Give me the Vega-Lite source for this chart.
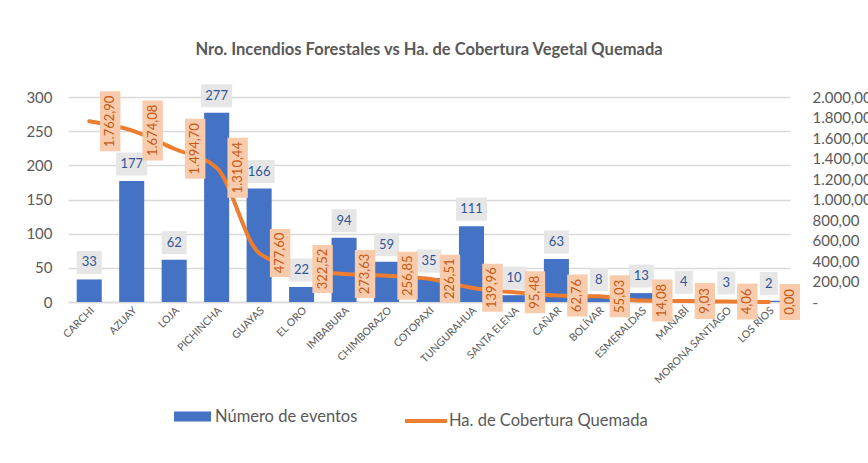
{
  "$schema": "https://vega.github.io/schema/vega-lite/v6.json",
  "width": 722,
  "height": 205,
  "autosize": {"type": "none"},
  "padding": {"left": 68, "top": 97, "right": 78, "bottom": 161},
  "background": "white",
  "title": {
    "text": "Nro. Incendios Forestales vs Ha. de Cobertura Vegetal Quemada",
    "font": "Lato",
    "fontSize": 16.5,
    "fontWeight": "bold",
    "color": "#595959",
    "anchor": "middle",
    "frame": "group",
    "offset": 26
  },
  "data": {
    "values": [
      {"p": "CARCHI", "n": 33, "ha": 1762.90},
      {"p": "AZUAY", "n": 177, "ha": 1674.08},
      {"p": "LOJA", "n": 62, "ha": 1494.70},
      {"p": "PICHINCHA", "n": 277, "ha": 1310.44},
      {"p": "GUAYAS", "n": 166, "ha": 477.60},
      {"p": "EL ORO", "n": 22, "ha": 322.52},
      {"p": "IMBABURA", "n": 94, "ha": 273.63},
      {"p": "CHIMBORAZO", "n": 59, "ha": 256.85},
      {"p": "COTOPAXI", "n": 35, "ha": 226.51},
      {"p": "TUNGURAHUA", "n": 111, "ha": 139.96},
      {"p": "SANTA ELENA", "n": 10, "ha": 95.48},
      {"p": "CAÑAR", "n": 63, "ha": 62.76},
      {"p": "BOLÍVAR", "n": 8, "ha": 55.03},
      {"p": "ESMERALDAS", "n": 13, "ha": 14.08},
      {"p": "MANABÍ", "n": 4, "ha": 9.03},
      {"p": "MORONA SANTIAGO", "n": 3, "ha": 4.06},
      {"p": "LOS RÍOS", "n": 2, "ha": 0.00}
    ]
  },
  "encoding": {
    "x": {
      "field": "p",
      "type": "nominal",
      "sort": null,
      "title": null,
      "scale": {"paddingInner": 0.41, "paddingOuter": 0.205},
      "axis": {
        "labelAngle": -45,
        "labelFontSize": 10.5,
        "labelColor": "#595959",
        "labelFont": "Lato",
        "labelLimit": 0,
        "ticks": false,
        "domainColor": "#d9d9d9",
        "domainWidth": 1.5,
        "labelPadding": 3
      }
    }
  },
  "layer": [
    {
      "mark": {"type": "bar", "stroke": null},
      "encoding": {
        "y": {
          "field": "n",
          "type": "quantitative",
          "title": null,
          "scale": {"domain": [0, 300], "nice": false},
          "axis": {
            "values": [0, 50, 100, 150, 200, 250, 300],
            "labelFontSize": 15,
            "labelColor": "#595959",
            "labelFont": "Lato",
            "labelPadding": 16,
            "ticks": false,
            "domain": false,
            "grid": true,
            "gridColor": "#d9d9d9",
            "gridWidth": 1.5
          }
        },
        "fill": {
          "datum": "Número de eventos",
          "scale": {"range": ["#4472c4"]},
          "legend": {
            "title": null,
            "orient": "none",
            "legendX": 106,
            "legendY": 301,
            "symbolType": "M-1,-0.27H1V0.27H-1Z",
            "symbolSize": 1369,
            "symbolStrokeWidth": 0,
            "labelFontSize": 16.5,
            "labelColor": "#595959",
            "labelFont": "Lato",
            "labelLimit": 0,
            "labelOffset": 4
          }
        }
      }
    },
    {
      "mark": {"type": "line", "strokeWidth": 4, "interpolate": "monotone", "strokeCap": "round"},
      "encoding": {
        "y": {
          "field": "ha",
          "type": "quantitative",
          "title": null,
          "scale": {"domain": [0, 2000], "nice": false},
          "axis": {
            "orient": "right",
            "values": [0, 200, 400, 600, 800, 1000, 1200, 1400, 1600, 1800, 2000],
            "labelExpr": "datum.value === 0 ? '-' : format(datum.value, ',.2f')",
            "labelFontSize": 15,
            "labelColor": "#595959",
            "labelFont": "Lato",
            "labelPadding": 22,
            "labelAlign": "left",
            "ticks": false,
            "domain": false,
            "grid": false
          }
        },
        "stroke": {
          "datum": "Ha. de Cobertura Quemada",
          "scale": {"range": ["#ed7d31"]},
          "legend": {
            "title": null,
            "orient": "none",
            "legendX": 335,
            "legendY": 301,
            "symbolType": "stroke",
            "symbolSize": 1764,
            "symbolStrokeWidth": 4,
            "labelFontSize": 16.5,
            "labelColor": "#595959",
            "labelFont": "Lato",
            "labelLimit": 0,
            "labelOffset": 0
          }
        }
      }
    },
    {
      "encoding": {
        "y": {
          "field": "n",
          "type": "quantitative",
          "scale": {"domain": [0, 300], "nice": false},
          "axis": null
        }
      },
      "layer": [
        {
          "mark": {"type": "point", "filled": true, "opacity": 1, "fill": "#e7e6e6", "strokeWidth": 0, "size": 1024, "yOffset": -17},
          "encoding": {
            "shape": {
              "condition": [
                {"test": "datum.n >= 100", "value": "M-0.97,-0.72H0.97V0.72H-0.97Z"},
                {"test": "datum.n >= 10", "value": "M-0.78,-0.72H0.78V0.72H-0.78Z"}
              ],
              "value": "M-0.56,-0.72H0.56V0.72H-0.56Z"
            }
          }
        },
        {
          "mark": {"type": "text", "font": "Lato", "fontSize": 13, "color": "#2f5597", "baseline": "middle", "align": "center", "yOffset": -17},
          "encoding": {
            "text": {"field": "n", "type": "quantitative"}
          }
        }
      ]
    },
    {
      "encoding": {
        "y": {
          "field": "ha",
          "type": "quantitative",
          "scale": {"domain": [0, 2000], "nice": false},
          "axis": null
        }
      },
      "layer": [
        {
          "mark": {"type": "point", "filled": true, "opacity": 1, "fill": "#f8cbad", "strokeWidth": 0, "size": 3600, "xOffset": 21},
          "encoding": {
            "shape": {
              "condition": [
                {"test": "datum.ha >= 1000", "value": "M-0.34,-1H0.34V1H-0.34Z"},
                {"test": "datum.ha >= 100", "value": "M-0.34,-0.8H0.34V0.8H-0.34Z"},
                {"test": "datum.ha >= 10", "value": "M-0.34,-0.7H0.34V0.7H-0.34Z"}
              ],
              "value": "M-0.34,-0.6H0.34V0.6H-0.34Z"
            }
          }
        },
        {
          "mark": {"type": "text", "font": "Lato", "fontSize": 13, "color": "#c65911", "baseline": "middle", "align": "center", "angle": 270, "xOffset": 21},
          "encoding": {
            "text": {"field": "ha", "type": "quantitative", "format": ",.2f"}
          }
        }
      ]
    }
  ],
  "resolve": {"scale": {"y": "independent"}},
  "config": {
    "font": "Lato",
    "view": {"stroke": null},
    "locale": {
      "number": {"decimal": ",", "thousands": ".", "grouping": [3], "currency": ["", " €"]}
    }
  }
}
